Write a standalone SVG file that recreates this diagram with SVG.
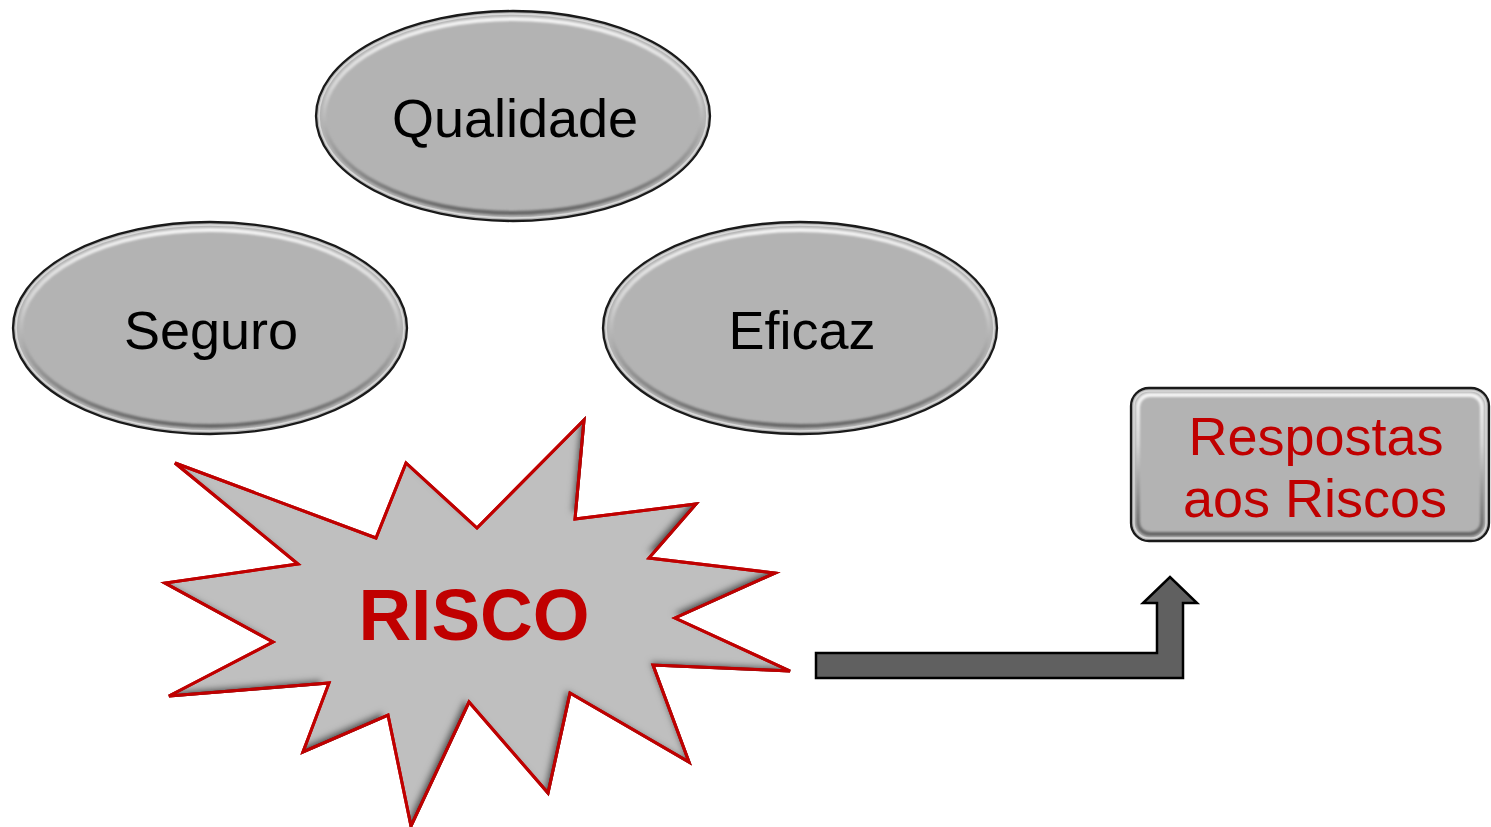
<svg xmlns="http://www.w3.org/2000/svg" width="1491" height="827" viewBox="0 0 1491 827">
  <defs>
    <linearGradient id="bevel" x1="0" y1="0" x2="0" y2="1">
      <stop offset="0" stop-color="#f4f4f4"/>
      <stop offset="0.35" stop-color="#d6d6d6"/>
      <stop offset="0.6" stop-color="#a8a8a8"/>
      <stop offset="1" stop-color="#666666"/>
    </linearGradient>
    <filter id="soft" x="-5%" y="-5%" width="110%" height="110%">
      <feGaussianBlur stdDeviation="1.2"/>
    </filter>
    <filter id="inshadow" x="-5%" y="-5%" width="110%" height="110%">
      <feComponentTransfer in="SourceAlpha" result="inv">
        <feFuncA type="table" tableValues="1 0"/>
      </feComponentTransfer>
      <feOffset in="inv" dx="-5" dy="-5" result="off"/>
      <feGaussianBlur in="off" stdDeviation="3" result="blur"/>
      <feFlood flood-color="#303030" flood-opacity="0.9"/>
      <feComposite in2="blur" operator="in" result="sh"/>
      <feComposite in="sh" in2="SourceAlpha" operator="in" result="shin"/>
      <feMerge>
        <feMergeNode in="SourceGraphic"/>
        <feMergeNode in="shin"/>
      </feMerge>
    </filter>
  </defs>
  <style>
    .base { fill: #b3b3b3; stroke: #1a1a1a; stroke-width: 2.3; }
    .ring1 { fill: none; stroke: #d9d9d9; stroke-width: 1.5; }
    .ring2 { fill: none; stroke: url(#bevel); stroke-width: 4; filter: url(#soft); }
    .lbl { font-family: "Liberation Sans", Arial, sans-serif; font-size: 54px; fill: #000; text-anchor: middle; }
    .red { fill: #c00000; }
    .burst { fill: #bfbfbf; stroke: #c00000; stroke-width: 3; stroke-linejoin: miter; }
    .arrow { fill: #606060; stroke: #000; stroke-width: 2.5; stroke-linejoin: miter; }
  </style>

  <g id="qualidade">
    <ellipse class="base" cx="513" cy="116" rx="197" ry="105"/>
    <ellipse class="ring1" cx="513" cy="116" rx="194" ry="102"/>
    <ellipse class="ring2" cx="513" cy="116" rx="189" ry="97"/>
    <text class="lbl" x="515" y="137">Qualidade</text>
  </g>

  <g id="seguro">
    <ellipse class="base" cx="210" cy="328" rx="197" ry="106"/>
    <ellipse class="ring1" cx="210" cy="328" rx="194" ry="103"/>
    <ellipse class="ring2" cx="210" cy="328" rx="189" ry="98"/>
    <text class="lbl" x="211" y="349">Seguro</text>
  </g>

  <g id="eficaz">
    <ellipse class="base" cx="800" cy="328" rx="197" ry="106"/>
    <ellipse class="ring1" cx="800" cy="328" rx="194" ry="103"/>
    <ellipse class="ring2" cx="800" cy="328" rx="189" ry="98"/>
    <text class="lbl" x="802" y="349">Eficaz</text>
  </g>

  <g id="risco">
    <polygon class="burst" filter="url(#inshadow)" points="175,463 376,538 406,463 477,528 584,420 575,519 696,504 649,558 775,573 675,618 790,671 653,665 689,762 570,693 548,793 469,702 411,826 388,715 303,752 329,683 169,696 273,642 165,583 298,564"/>
    <polygon fill="none" stroke="#c00000" stroke-width="3" points="175,463 376,538 406,463 477,528 584,420 575,519 696,504 649,558 775,573 675,618 790,671 653,665 689,762 570,693 548,793 469,702 411,826 388,715 303,752 329,683 169,696 273,642 165,583 298,564"/>
    <text x="474" y="640" font-family="Liberation Sans, Arial, sans-serif" font-weight="bold" font-size="73" fill="#c00000" text-anchor="middle">RISCO</text>
  </g>

  <g id="respostas">
    <rect class="base" x="1131" y="388" width="358" height="153" rx="18" ry="18"/>
    <rect class="ring1" x="1134" y="391" width="352" height="147" rx="15" ry="15"/>
    <rect class="ring2" x="1138" y="395" width="344" height="139" rx="12" ry="12"/>
    <text class="lbl red" x="1316" y="455">Respostas</text>
    <text class="lbl red" x="1315" y="517">aos Riscos</text>
  </g>

  <g id="connectors">
    <polygon class="arrow" points="816,653 1157,653 1157,603 1143,603 1170,577 1197,603 1183,603 1183,678 816,678"/>
  </g>
</svg>
